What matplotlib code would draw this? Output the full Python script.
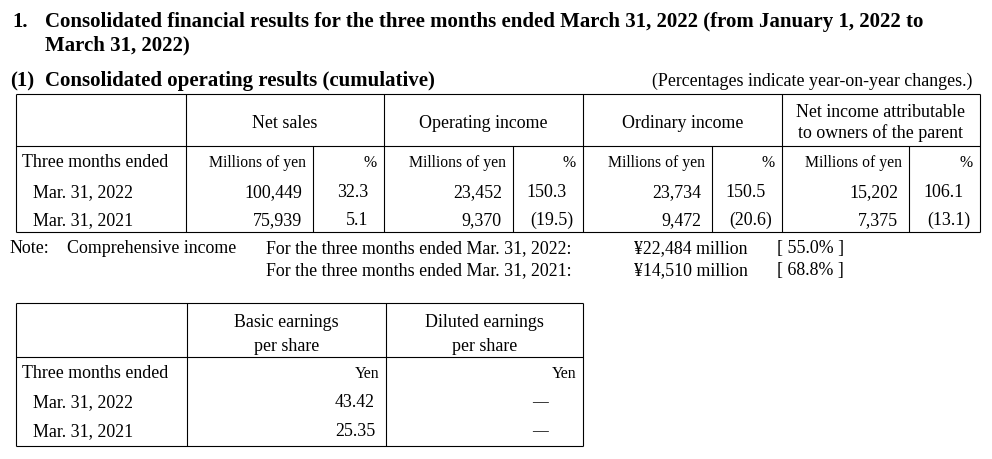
import matplotlib
matplotlib.use("Agg")
from matplotlib import pyplot as plt

plt.rcParams['font.family'] = ['Liberation Serif', 'DejaVu Serif']

# table data
periods = ["Mar. 31, 2022", "Mar. 31, 2021"]
headers = ["Net sales", "Operating income", "Ordinary income",
           "Net income attributable\nto owners of the parent"]
amounts = [["100,449", "75,939"],
           ["23,452", "9,370"],
           ["23,734", "9,472"],
           ["15,202", "7,375"]]
changes = [["32.3", "5.1"],
           ["150.3", "(19.5)"],
           ["150.5", "(20.6)"],
           ["106.1", "(13.1)"]]
comp_income = ["¥22,484 million", "¥14,510 million"]
comp_change = ["[ 55.0% ]", "[ 68.8% ]"]
eps_headers = ["Basic earnings\nper share", "Diluted earnings\nper share"]
eps_basic = ["43.42", "25.35"]
eps_diluted = ["—", "—"]

W, H = 992, 460
fig = plt.figure(figsize=(W / 100, H / 100), dpi=100)
ax = fig.add_axes([0, 0, 1, 1])
ax.set_xlim(0, W)
ax.set_ylim(H, 0)
ax.axis('off')

BIG = 15.0
TXT = 12.9
SMALL = 11.3
LW = 0.8


def txt(x, y, s, size=TXT, ha='left', va='baseline', **kw):
    ax.text(x, y, s, fontsize=size, ha=ha, va=va, color='black', **kw)


def hline(y, x0, x1):
    ax.plot([x0, x1], [y, y], color='black', lw=LW, solid_capstyle='butt')


def vline(x, y0, y1):
    ax.plot([x, x], [y0, y1], color='black', lw=LW, solid_capstyle='butt')


# titles
txt(12, 27, "1.", BIG, weight='bold')
txt(45, 27, "Consolidated financial results for the three months ended March 31, 2022 (from January 1, 2022 to",
    BIG, weight='bold')
txt(45, 50, "March 31, 2022)", BIG, weight='bold')
txt(10, 86, "(1)", BIG, weight='bold')
txt(45, 86, "Consolidated operating results (cumulative)", BIG, weight='bold')
txt(972, 86, "(Percentages indicate year-on-year changes.)", TXT, ha='right')

# first table grid
left, right = 16, 980
top, sep, bottom = 95, 147, 233
group_edges = [186, 384, 583, 782, 980]
inner = [313, 513, 712, 909]
hline(top, left, right)
hline(sep, left, right)
hline(bottom, left, right)
vline(left, top, bottom)
for x in group_edges:
    vline(x, top, bottom)
for x in inner:
    vline(x, sep, bottom)

txt(22, 167, "Three months ended")
row_base = [197, 225]
for i, p in enumerate(periods):
    txt(33, row_base[i], p)

for g in range(4):
    x0, x1 = group_edges[g], group_edges[g + 1]
    xm = inner[g]
    h = headers[g]
    if "\n" in h:
        l1, l2 = h.split("\n")
        txt((x0 + x1) / 2, 117, l1, ha='center')
        txt((x0 + x1) / 2, 138, l2, ha='center')
    else:
        txt((x0 + x1) / 2, 128, h, ha='center')
    txt(xm - 7, 167, "Millions of yen", SMALL, ha='right')
    txt(x1 - 7, 167, "%", SMALL, ha='right')
    for i in range(2):
        txt(xm - 11, row_base[i], amounts[g][i], ha='right')
        c = changes[g][i]
        off = 10 if c.startswith("(") else 16
        txt(x1 - off, row_base[i], c, ha='right')

# note
txt(10, 253, "Note:")
txt(67, 253, "Comprehensive income")
txt(266, 253, "For the three months ended Mar. 31, 2022:")
txt(266, 275, "For the three months ended Mar. 31, 2021:")
for i, yb in enumerate([253, 275]):
    txt(634, yb, comp_income[i])
    txt(777, yb, comp_change[i])

# second table
t2_left, t2_right = 16, 583
t2_top, t2_sep, t2_bottom = 304, 358, 447
t2_edges = [187, 386, 583]
hline(t2_top, t2_left, t2_right)
hline(t2_sep, t2_left, t2_right)
hline(t2_bottom, t2_left, t2_right)
vline(t2_left, t2_top, t2_bottom)
for x in t2_edges:
    vline(x, t2_top, t2_bottom)

txt(22, 378, "Three months ended")
eps_rows = [407, 436]
for i, p in enumerate(periods):
    txt(33, eps_rows[i], p)

for g in range(2):
    x0, x1 = t2_edges[g], t2_edges[g + 1]
    l1, l2 = eps_headers[g].split("\n")
    txt((x0 + x1) / 2, 327, l1, ha='center')
    txt((x0 + x1) / 2, 351, l2, ha='center')
    txt(x1 - 7, 378, "Yen", SMALL, ha='right')

for i in range(2):
    txt(t2_edges[1] - 11, eps_rows[i], eps_basic[i], ha='right')
    txt(540, eps_rows[i] - 5, eps_diluted[i], SMALL, ha='center', va='center')

fig.savefig("out.png", dpi=100)
